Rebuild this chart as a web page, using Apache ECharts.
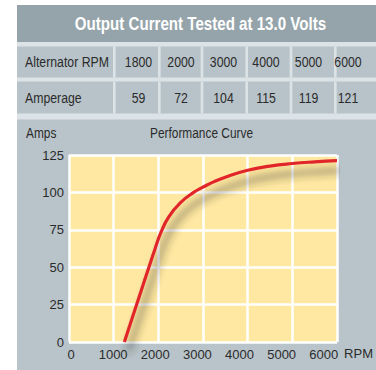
<!DOCTYPE html>
<html>
<head>
<meta charset="utf-8">
<style>
  html, body { margin: 0; padding: 0; background: #ffffff; }
  #chart { width: 376px; height: 370px; }
</style>
<script src="https://cdn.jsdelivr.net/npm/echarts@6/dist/echarts.min.js"></script>
</head>
<body>
<div id="chart"></div>
<script>
// Test table: alternator speed and measured output
const tableTitle = 'Output Current Tested at 13.0 Volts';
const rowLabels = ['Alternator RPM', 'Amperage'];
const tableRpm = [1800, 2000, 3000, 4000, 5000, 6000];
const tableAmps = [59, 72, 104, 115, 119, 121];

// Performance curve (RPM -> Amps)
const curveRpm  = [1240, 1380, 1520, 1650, 1780, 1920, 2060, 2230, 2490, 2790, 3000,  3250,  3500,  4000,  4500,  5000,  5500,  6000];
const curveAmps = [0,    12.8, 25.5, 37.4, 49.2, 61.7, 73.4, 83.5, 93,   100,  103.5, 107.2, 110.2, 114.8, 117.6, 119.3, 120.4, 121.2];

// Axis ticks
const xMin = 0, xMax = 6000, xStep = 1000;
const yMin = 0, yMax = 125, yStep = 25;

const FONT = '"Liberation Sans", Arial, sans-serif';
const NARROW = 0.82;           // horizontal squeeze for condensed-looking text
const TEXT = '#2b2b2b';
const CELL = '#b8c3c9';
const LIGHT = '#dce3e6';

// ---- table drawn as graphic elements ----
const cardLeft = 17, cardRight = 376;
const sepX = [114.3, 159.3, 202, 246.7, 291, 335.3];
const valueX = [138.5, 181, 223.5, 266, 308.5, 348];
const rows = [
  { top: 46.5, bottom: 77.5, mid: 62.5, values: tableRpm },
  { top: 81.5, bottom: 113.5, mid: 98.5, values: tableAmps }
];

function label(text, x, y, size, align, extra) {
  return Object.assign({
    type: 'text', x: x, y: y, scaleX: NARROW,
    style: { text: text, fill: TEXT, font: size + 'px ' + FONT, align: align, verticalAlign: 'middle' }
  }, extra || {});
}

const graphics = [];
// title bar
graphics.push({ type: 'rect', shape: { x: cardLeft, y: 5, width: cardRight - cardLeft, height: 37 },
  style: { fill: '#95a4aa' }, silent: true });
// light strip behind table
graphics.push({ type: 'rect', shape: { x: cardLeft, y: 42, width: cardRight - cardLeft, height: 78 },
  style: { fill: LIGHT }, silent: true });
graphics.push({ type: 'text', x: 200.5, y: 24, scaleX: 0.84,
  style: { text: tableTitle, fill: '#ffffff', font: 'bold 18px ' + FONT, align: 'center', verticalAlign: 'middle' } });

rows.forEach((r, ri) => {
  graphics.push({ type: 'rect', shape: { x: cardLeft, y: r.top, width: cardRight - cardLeft, height: r.bottom - r.top },
    style: { fill: CELL }, silent: true });
  sepX.forEach(sx => {
    graphics.push({ type: 'rect', shape: { x: sx - 1.3, y: r.top, width: 2.6, height: r.bottom - r.top },
      style: { fill: LIGHT }, silent: true });
  });
  graphics.push(label(rowLabels[ri], 25, r.mid, 15, 'left'));
  r.values.forEach((v, i) => {
    graphics.push(label(String(v), valueX[i], r.mid, 15, 'center'));
  });
});
// chart panel
graphics.push({ type: 'rect', shape: { x: cardLeft, y: 119.5, width: cardRight - cardLeft, height: 260 },
  style: { fill: '#b9c4ca' }, silent: true });
// chart headings
graphics.push(label('Amps', 26, 133, 14.5, 'left'));
graphics.push(label('Performance Curve', 150, 133, 14.5, 'left'));

const chart = echarts.init(document.getElementById('chart'), null, { renderer: 'svg' });

const tickText = { fontFamily: FONT, fontSize: 13, color: TEXT };

chart.setOption({
  animation: false,
  backgroundColor: '#ffffff',
  graphic: { elements: graphics.map(g => Object.assign({ z: -10 }, g)) },
  grid: [
    { left: 69, top: 155, width: 268, height: 187, show: true, backgroundColor: '#ffe8a2', borderWidth: 0 },
    { left: 71, top: 155, width: 255.5, height: 187, show: false }
  ],
  xAxis: [
    { type: 'value', gridIndex: 0, min: xMin, max: xMax, interval: xStep,
      axisLine: { show: false }, axisTick: { show: false }, axisLabel: { show: false },
      splitLine: { show: true, lineStyle: { color: '#ffffff', width: 2.5 } } },
    { type: 'value', gridIndex: 1, min: xMin, max: xMax, interval: xStep,
      name: 'RPM', nameLocation: 'end', nameGap: 8,
      nameTextStyle: Object.assign({ verticalAlign: 'top', padding: [5, 0, 0, 0] }, tickText),
      axisLine: { show: false }, axisTick: { show: false }, splitLine: { show: false },
      axisLabel: Object.assign({ margin: 6, formatter: v => String(v) }, tickText) }
  ],
  yAxis: [
    { type: 'value', gridIndex: 0, min: yMin, max: yMax, interval: yStep,
      axisLine: { show: false }, axisTick: { show: false },
      axisLabel: Object.assign({ margin: 5 }, tickText),
      splitLine: { show: true, lineStyle: { color: '#ffffff', width: 2.5 } } },
    { type: 'value', gridIndex: 1, min: yMin, max: yMax, show: false }
  ],
  series: [{
    type: 'line',
    xAxisIndex: 0, yAxisIndex: 0,
    data: curveRpm.map((x, i) => [x, curveAmps[i]]),
    smooth: 0.5,
    showSymbol: false,
    clip: false,
    lineStyle: {
      color: '#e1262b', width: 3.2,
      shadowColor: 'rgba(45,45,35,0.75)', shadowBlur: 8, shadowOffsetX: 4, shadowOffsetY: 10
    }
  }]
});
</script>
</body>
</html>
